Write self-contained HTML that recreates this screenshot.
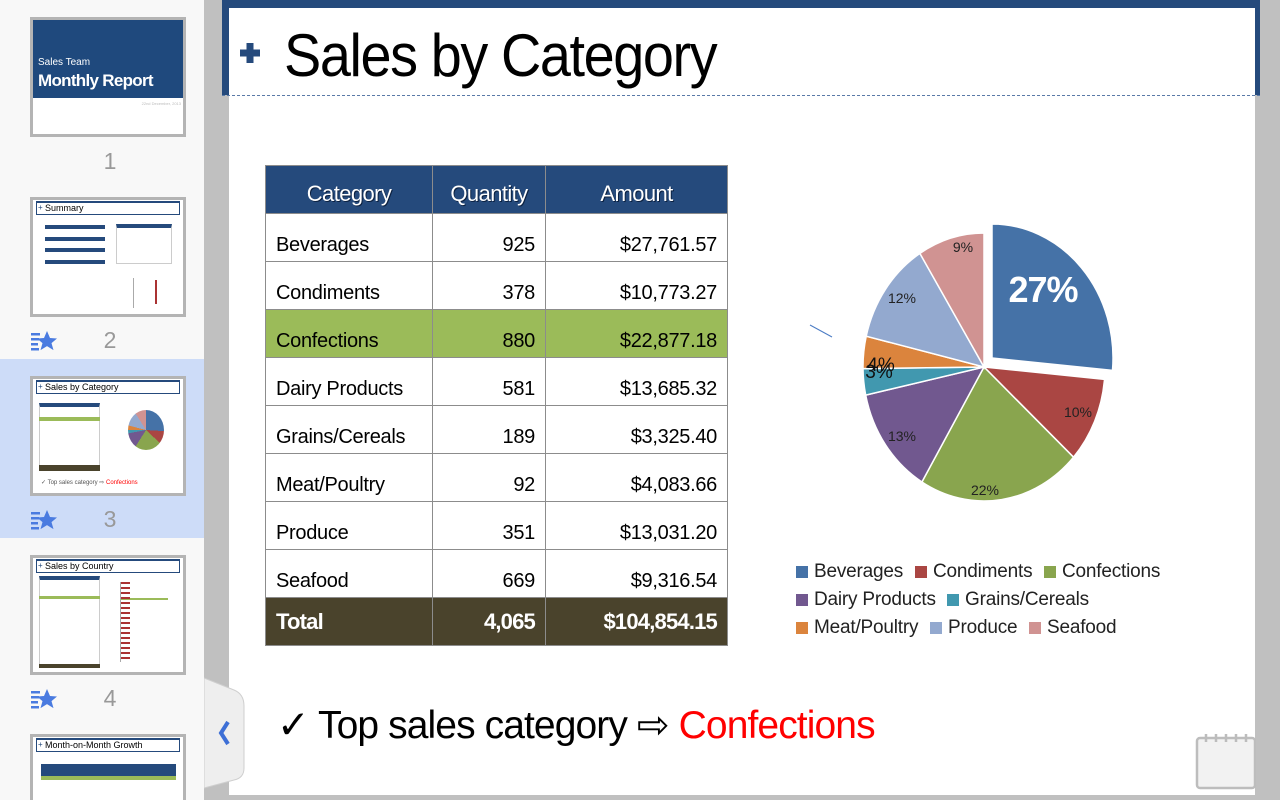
<!DOCTYPE html>
<html><head><meta charset="utf-8"><style>
*{margin:0;padding:0;box-sizing:border-box}
html,body{width:1280px;height:800px;overflow:hidden}
body{background:#c0c0c0;font-family:"Liberation Sans",sans-serif;position:relative}
.abs{position:absolute}
#side{left:0;top:0;width:204px;height:800px;background:#f8f8f8;overflow:hidden}
.thumb{position:absolute;left:30px;width:156px;height:120px;background:#fff;border:3px solid #b4b4b4;overflow:hidden}
.num{position:absolute;left:98px;width:24px;text-align:center;font-size:23px;color:#999}
.tt{position:absolute;left:3px;top:1px;right:3px;height:14px;border:1px solid #254a7c;border-top-width:2px;font-size:9px;line-height:11px;padding-left:8px;color:#000}
.tt:before{content:"+";position:absolute;left:1px;top:-1px;color:#254a7c;font-size:8px}
table.m{position:absolute;left:265px;top:165px;border-collapse:collapse;font-size:20px;letter-spacing:-0.3px}
table.m td,table.m th{border:1px solid #8c8c8c;height:48px;padding:0 10px}
table.m th{background:#254a7c;color:#fff;font-weight:normal;font-size:22px;letter-spacing:-0.6px;padding-top:8px;text-shadow:1px 1px 0 #0c2140}
table.m td{vertical-align:bottom;padding-bottom:4px}
.r{text-align:right}
.lg{position:absolute;font-size:19px;color:#222;letter-spacing:-0.2px}
.lg i{position:absolute;left:-18px;top:5px;width:12px;height:12px}
</style></head><body>
<div id="side" class="abs">
  <div class="abs" style="left:0;top:359px;width:204px;height:179px;background:#cddcf8"></div>
  <div class="thumb" style="top:17px">
    <div class="abs" style="left:0;top:0;width:150px;height:78px;background:#1f497d"></div>
    <div class="abs" style="left:5px;top:37px;color:#fff;font-size:10px">Sales Team</div>
    <div class="abs" style="left:5px;top:51px;color:#fff;font-size:17px;letter-spacing:-0.7px;font-weight:bold">Monthly Report</div>
    <div class="abs" style="right:2px;top:81px;color:#bbb;font-size:4px">22nd December, 2013</div>
  </div>
  <div class="num" style="top:148px">1</div>
  <div class="thumb" style="top:197px"><div class="tt">Summary</div>
    <div class="abs" style="left:12px;top:25px;width:60px;height:4px;background:#254a7c"></div>
    <div class="abs" style="left:12px;top:37px;width:60px;height:4px;background:#254a7c"></div>
    <div class="abs" style="left:12px;top:48px;width:60px;height:4px;background:#254a7c"></div>
    <div class="abs" style="left:12px;top:60px;width:60px;height:4px;background:#254a7c"></div>
    <div class="abs" style="left:83px;top:24px;width:56px;height:40px;border:1px solid #ccc;border-top:4px solid #254a7c"></div>
    <div class="abs" style="left:100px;top:78px;width:1px;height:30px;background:#aaa"></div>
    <div class="abs" style="left:122px;top:80px;width:2px;height:24px;background:#a33"></div>
  </div>
  <div class="num" style="top:327px">2</div>
  <div class="thumb" style="top:376px"><div class="tt">Sales by Category</div>
    <div class="abs" style="left:6px;top:24px;width:61px;height:68px;border:1px solid #ccc;border-top:4px solid #254a7c"></div>
    <div class="abs" style="left:6px;top:38px;width:61px;height:4px;background:#9bbb59"></div>
    <div class="abs" style="left:6px;top:86px;width:61px;height:6px;background:#4a432c"></div>
    <div class="abs" style="left:95px;top:31px;width:36px;height:40px;border-radius:50%;background:conic-gradient(#4572a7 0 26%,#aa4643 0 37%,#89a54e 0 59%,#71588f 0 72%,#4198af 0 75%,#db843d 0 79%,#93a9cf 0 91%,#d09392 0)"></div>
    <div class="abs" style="left:8px;top:100px;font-size:6px;color:#555">✓ Top sales category ⇨ <span style="color:red">Confections</span></div>
  </div>
  <div class="num" style="top:506px">3</div>
  <div class="thumb" style="top:555px"><div class="tt">Sales by Country</div>
    <div class="abs" style="left:6px;top:18px;width:61px;height:92px;border:1px solid #ccc;border-top:4px solid #254a7c"></div>
    <div class="abs" style="left:6px;top:38px;width:61px;height:3px;background:#9bbb59"></div>
    <div class="abs" style="left:6px;top:106px;width:61px;height:4px;background:#4a432c"></div>
    <div class="abs" style="left:87px;top:40px;width:48px;height:2px;background:#9bbb59"></div>
    <div class="abs" style="left:87px;top:24px;width:10px;height:80px;border-left:1px solid #aaa;background:repeating-linear-gradient(#a33 0 2px,transparent 2px 5px)"></div>
  </div>
  <div class="num" style="top:685px">4</div>
  <div class="thumb" style="top:734px;height:80px"><div class="tt">Month-on-Month Growth</div>
    <div class="abs" style="left:8px;top:27px;width:135px;height:12px;background:#254a7c"></div>
    <div class="abs" style="left:8px;top:39px;width:135px;height:4px;background:#9bbb59"></div>
  </div>
  <svg class="abs" style="left:30px;top:330px" width="28" height="22" viewBox="0 0 28 22"><g fill="#4a7be0"><rect x="1" y="3" width="9" height="2.5"/><rect x="1" y="8" width="8" height="2.5"/><rect x="1" y="13" width="7" height="2.5"/><rect x="1" y="18" width="8" height="2.5"/><path d="M17 1l3 7 7 .5-5.5 4.6 2 7-6.5-4-6.5 4 2-7L7 8.5l7-.5z"/></g></svg>
  <svg class="abs" style="left:30px;top:509px" width="28" height="22" viewBox="0 0 28 22"><g fill="#4a7be0"><rect x="1" y="3" width="9" height="2.5"/><rect x="1" y="8" width="8" height="2.5"/><rect x="1" y="13" width="7" height="2.5"/><rect x="1" y="18" width="8" height="2.5"/><path d="M17 1l3 7 7 .5-5.5 4.6 2 7-6.5-4-6.5 4 2-7L7 8.5l7-.5z"/></g></svg>
  <svg class="abs" style="left:30px;top:688px" width="28" height="22" viewBox="0 0 28 22"><g fill="#4a7be0"><rect x="1" y="3" width="9" height="2.5"/><rect x="1" y="8" width="8" height="2.5"/><rect x="1" y="13" width="7" height="2.5"/><rect x="1" y="18" width="8" height="2.5"/><path d="M17 1l3 7 7 .5-5.5 4.6 2 7-6.5-4-6.5 4 2-7L7 8.5l7-.5z"/></g></svg>
</div>
<div class="abs" style="left:229px;top:0;width:1026px;height:795px;background:#fff"></div>
<div class="abs" style="left:222px;top:0;width:1038px;height:8px;background:#254a7c"></div>
<div class="abs" style="left:222px;top:0;width:7px;height:95px;background:#254a7c"></div>
<div class="abs" style="left:1255px;top:0;width:5px;height:95px;background:#254a7c"></div>
<div class="abs" style="left:222px;top:95px;width:1038px;border-top:1px dashed #5a7aa8"></div>
<svg class="abs" style="left:239px;top:42px" width="22" height="22"><rect x="7.5" y="1" width="7" height="20" fill="#254a7c"/><rect x="1" y="7.5" width="20" height="7" fill="#254a7c"/></svg>
<div class="abs" style="left:284px;top:22px;font-size:60px;line-height:68px;letter-spacing:-1.5px;transform:scaleX(0.93);transform-origin:left;color:#000">Sales by Category</div>

<table class="m">
<tr><th style="width:167px">Category</th><th style="width:113px">Quantity</th><th style="width:182px">Amount</th></tr>
<tr><td>Beverages</td><td class="r">925</td><td class="r">$27,761.57</td></tr>
<tr><td>Condiments</td><td class="r">378</td><td class="r">$10,773.27</td></tr>
<tr style="background:#9bbb59"><td>Confections</td><td class="r">880</td><td class="r">$22,877.18</td></tr>
<tr><td>Dairy Products</td><td class="r">581</td><td class="r">$13,685.32</td></tr>
<tr><td>Grains/Cereals</td><td class="r">189</td><td class="r">$3,325.40</td></tr>
<tr><td>Meat/Poultry</td><td class="r">92</td><td class="r">$4,083.66</td></tr>
<tr><td>Produce</td><td class="r">351</td><td class="r">$13,031.20</td></tr>
<tr><td>Seafood</td><td class="r">669</td><td class="r">$9,316.54</td></tr>
<tr style="background:#4a432c;color:#fff;font-size:22px;letter-spacing:-0.8px;font-weight:bold"><td style="vertical-align:middle;padding-bottom:0">Total</td><td class="r" style="vertical-align:middle;padding-bottom:0">4,065</td><td class="r" style="vertical-align:middle;padding-bottom:0">$104,854.15</td></tr>
</table>

<svg class="abs" style="left:0;top:0" width="1280" height="800">
<g stroke="#fff" stroke-width="1.5">
<path d="M992 358 L992 224 A121 134 0 0 1 1112.5 370.4 Z" fill="#4572a7"/>
<path d="M984 367 L1104.5 379.4 A121 134 0 0 1 1073.5 457.2 Z" fill="#aa4643"/>
<path d="M984 367 L1073.5 457.2 A121 134 0 0 1 921.9 482 Z" fill="#89a54e"/>
<path d="M984 367 L921.9 482 A121 134 0 0 1 865.7 395.1 Z" fill="#71588f"/>
<path d="M984 367 L865.7 395.1 A121 134 0 0 1 863 368.6 Z" fill="#4198af"/>
<path d="M984 367 L863 368.6 A121 134 0 0 1 866.2 336.2 Z" fill="#db843d"/>
<path d="M984 367 L866.2 336.2 A121 134 0 0 1 919.9 253.4 Z" fill="#93a9cf"/>
<path d="M984 367 L919.9 253.4 A121 134 0 0 1 984 233 Z" fill="#d09392"/>
</g>
<line x1="810" y1="325" x2="832" y2="337" stroke="#4a7bc4" stroke-width="1"/>
<g font-family="Liberation Sans, sans-serif" fill="#222" font-size="14" text-anchor="middle">
<text x="1043" y="302" fill="#fff" font-size="36" font-weight="bold" letter-spacing="-1">27%</text>
<text x="1078" y="417">10%</text>
<text x="985" y="495">22%</text>
<text x="902" y="441">13%</text>
<text x="902" y="303">12%</text>
<text x="963" y="252">9%</text>
<text x="881" y="371" font-size="19" fill="#111">4%</text>
<text x="879" y="378" font-size="19" fill="#111">3%</text>
</g>
</svg>

<div class="lg" style="left:814px;top:561px"><i style="background:#4572a7"></i>Beverages</div>
<div class="lg" style="left:933px;top:561px"><i style="background:#aa4643"></i>Condiments</div>
<div class="lg" style="left:1062px;top:561px"><i style="background:#89a54e"></i>Confections</div>
<div class="lg" style="left:814px;top:589px"><i style="background:#71588f"></i>Dairy Products</div>
<div class="lg" style="left:965px;top:589px"><i style="background:#4198af"></i>Grains/Cereals</div>
<div class="lg" style="left:814px;top:617px"><i style="background:#db843d"></i>Meat/Poultry</div>
<div class="lg" style="left:948px;top:617px"><i style="background:#93a9cf"></i>Produce</div>
<div class="lg" style="left:1047px;top:617px"><i style="background:#d09392"></i>Seafood</div>

<div class="abs" style="left:277px;top:703px;font-size:39px;letter-spacing:-0.9px;color:#000;white-space:nowrap">✓ Top sales category ⇨ <span style="color:#f00">Confections</span></div>

<svg class="abs" style="left:204px;top:676px" width="44" height="114"><path d="M0 2 L30 14 Q40 18 40 30 L40 92 Q40 102 30 104 L0 112 Z" fill="#eeeeee" stroke="#cfcfcf"/><path d="M24 46 L17 57 L24 68" fill="none" stroke="#3d6fd6" stroke-width="4"/></svg>
<svg class="abs" style="left:1194px;top:732px" width="64" height="60"><rect x="3" y="6" width="58" height="50" rx="3" fill="#f2f2f2" stroke="#bdbdbd" stroke-width="2.5"/><g stroke="#bdbdbd" stroke-width="2.5"><line x1="12" y1="2" x2="12" y2="10"/><line x1="22" y1="2" x2="22" y2="10"/><line x1="32" y1="2" x2="32" y2="10"/><line x1="42" y1="2" x2="42" y2="10"/><line x1="52" y1="2" x2="52" y2="10"/></g></svg>
</body></html>
